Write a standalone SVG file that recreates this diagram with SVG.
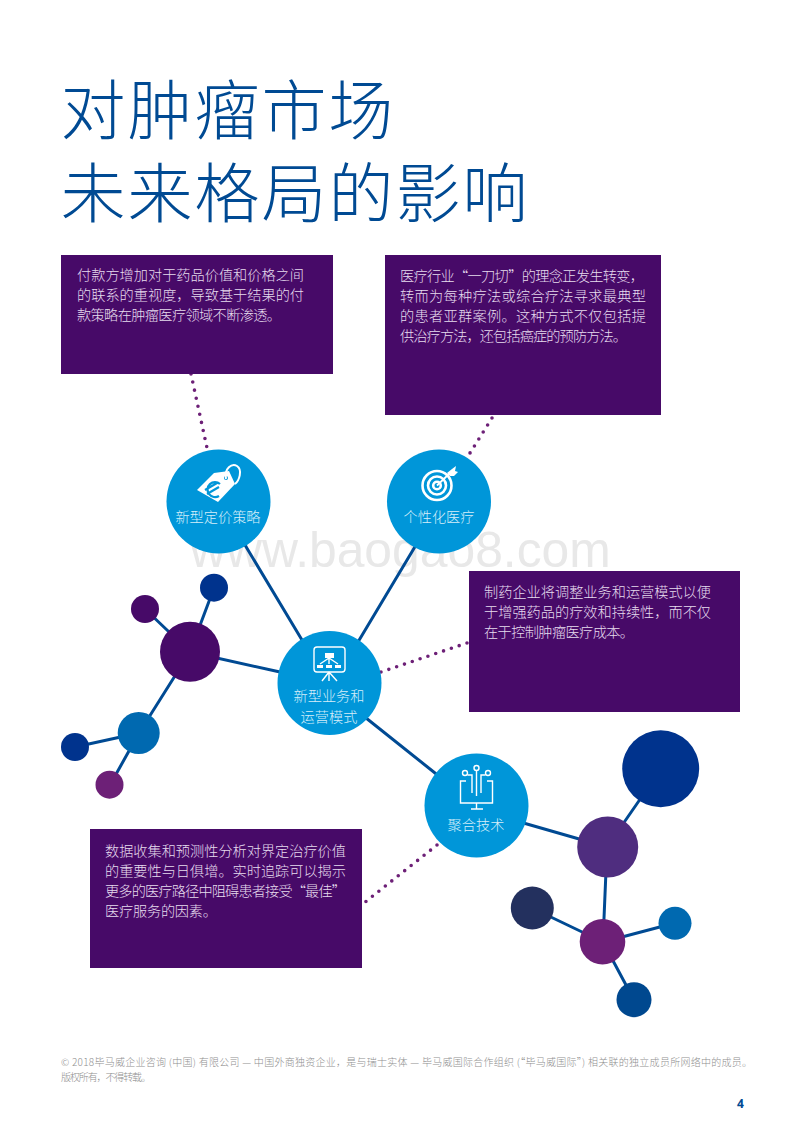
<svg xmlns="http://www.w3.org/2000/svg" width="800" height="1132" viewBox="0 0 800 1132">
<style>
text{font-family:"Noto Sans CJK SC","Noto Sans",sans-serif}
.title{font-size:65px;font-weight:200;fill:#004a93;letter-spacing:2px}
.box{fill:#470a68}
.bt{font-size:14.2px;fill:#e6dcee;font-weight:300}
.hub{fill:#0096d9}
.hl{font-size:14.2px;fill:#d6eefa;font-weight:300;text-anchor:middle}
.line{stroke:#004a93;stroke-width:3;fill:none}
.dot{stroke:#6d2077;stroke-width:3.6;stroke-linecap:round;stroke-dasharray:0 8.25;fill:none}
.ic{stroke:#fff;stroke-width:1.4;fill:none}
.tg{stroke:#fff;stroke-width:2.6;fill:none}
.foot{font-size:10px;fill:#8f8f8f;font-weight:300}
</style>
<rect width="800" height="1132" fill="#fff"/>
<text class="title" x="60.500" y="134">对肿瘤市场</text>
<text class="title" x="60.500" y="217">未来格局的影响</text>
<text x="190" y="567" font-size="49.800" style="font-family:'Liberation Sans',sans-serif" fill="#e8e8e8">www.baogao8.com</text>

<g id="connectors">
<path class="line" d="M245 545L302 640M416 545L358 642M190 652L280 672M190 652L214 588M190 652L145 609M190 652L139 733M139 733L75 747M139 733L110 785M356 710L440 777M520 822L607 847M607 847L661 769M607 847L603 942M603 942L532 908M603 942L675 923M603 942L634 1000"/>
<path class="dot" d="M191 374L207 448M492 418L470 453M381 672L467 643M437 845L364 903"/>
</g>

<g id="box-payer"><rect class="box" x="61" y="255" width="272" height="119"/>
<text class="bt" x="77" y="280">付款方增加对于药品价值和价格之间</text>
<text class="bt" x="77" y="300">的联系的重视度，导致基于结果的付</text>
<text class="bt" x="77" y="320" textLength="204">款策略在肿瘤医疗领域不断渗透。</text></g>

<g id="box-care"><rect class="box" x="385" y="255" width="276" height="160"/>
<text class="bt" x="400" y="281" textLength="244">医疗行业“一刀切”的理念正发生转变，</text>
<text class="bt" x="400" y="301" textLength="246">转而为每种疗法或综合疗法寻求最典型</text>
<text class="bt" x="400" y="321" textLength="246">的患者亚群案例。这种方式不仅包括提</text>
<text class="bt" x="400" y="341" textLength="227">供治疗方法，还包括癌症的预防方法。</text></g>

<g id="box-pharma"><rect class="box" x="469" y="571" width="271" height="141"/>
<text class="bt" x="484" y="597">制药企业将调整业务和运营模式以便</text>
<text class="bt" x="484" y="617">于增强药品的疗效和持续性，而不仅</text>
<text class="bt" x="484" y="637" textLength="150">在于控制肿瘤医疗成本。</text></g>

<g id="box-data"><rect class="box" x="90" y="829" width="272" height="139"/>
<text class="bt" x="105" y="856" textLength="241">数据收集和预测性分析对界定治疗价值</text>
<text class="bt" x="105" y="876" textLength="241">的重要性与日俱增。实时追踪可以揭示</text>
<text class="bt" x="105" y="896" textLength="241">更多的医疗路径中阻碍患者接受“最佳”</text>
<text class="bt" x="105" y="916" textLength="112">医疗服务的因素。</text></g>

<g id="node-pricing"><circle class="hub" cx="218.500" cy="501.500" r="52"/>
<path fill="#fff" d="M197 490L214 473L229 471L235 484L218 502Z"/>
<circle cx="226" cy="478" r="2" fill="#0096d9"/>
<path d="M226 479C224 468 232 463 237 466C243 470 239 481 235 484" fill="none" stroke="#fff" stroke-width="2"/>
<path d="M220 484A7.500 7.500 0 1 0 219 496M205 490L217 483M207 494L219 487" fill="none" stroke="#0096d9" stroke-width="2.200"/>
<text class="hl" x="218" y="522">新型定价策略</text></g>

<g id="node-personal"><circle class="hub" cx="439" cy="501.500" r="52"/>
<g class="tg"><circle cx="437" cy="485.500" r="14.500"/><circle cx="437" cy="485.500" r="9"/><circle cx="437" cy="485.500" r="3.800"/></g>
<path d="M437 485.500L450 473" stroke="#fff" stroke-width="1.800" fill="none"/>
<path fill="#fff" d="M447 473L452 469L456 466L455 471L458 472L454 476L450 476Z"/>
<text class="hl" x="439" y="522">个性化医疗</text></g>

<g id="node-ops"><circle class="hub" cx="329.500" cy="683" r="52"/>
<rect class="ic" x="314" y="647" width="31" height="25" rx="3"/>
<path class="ic" d="M329 672L322 681M329 672L337 681M329 672V681M329 658L320 664M329 658L338 664M329 658V664"/>
<g fill="#fff"><rect x="325" y="653" width="9" height="5"/><rect x="317" y="665" width="6" height="3"/><rect x="326" y="665" width="6" height="3"/><rect x="335" y="665" width="6" height="3"/></g>
<text class="hl" x="329" y="701">新型业务和</text>
<text class="hl" x="329" y="722">运营模式</text></g>

<g id="node-tech"><circle class="hub" cx="476.500" cy="805.500" r="52"/>
<g class="ic"><path d="M466 781H460.500V803H492.500V781H487M476.500 803V809M471 809H483"/><path d="M476.500 770.500V796M472 793V775H467.500M481 793V775H485.500"/><circle cx="476.500" cy="768" r="2.500"/><circle cx="465" cy="773" r="2.500"/><circle cx="488" cy="773" r="2.500"/></g>
<text class="hl" x="476" y="830">聚合技术</text></g>

<g id="mol-1"><circle cx="190" cy="651.700" r="30" fill="#470a68"/></g>
<g id="mol-2"><circle cx="214" cy="587.700" r="14" fill="#00338d"/></g>
<g id="mol-3"><circle cx="145" cy="609" r="14" fill="#470a68"/></g>
<g id="mol-4"><circle cx="138.700" cy="733" r="21" fill="#0069b0"/></g>
<g id="mol-5"><circle cx="75" cy="747" r="14" fill="#00338d"/></g>
<g id="mol-6"><circle cx="109.500" cy="784.700" r="14" fill="#6d2077"/></g>
<g id="mol-7"><circle cx="660.700" cy="768.700" r="38.500" fill="#00338d"/></g>
<g id="mol-8"><circle cx="607.700" cy="847" r="30.500" fill="#4f2d7f"/></g>
<g id="mol-9"><circle cx="602.500" cy="941.700" r="22.800" fill="#6d2077"/></g>
<g id="mol-10"><circle cx="532.300" cy="908" r="21.500" fill="#23305e"/></g>
<g id="mol-11"><circle cx="675" cy="923.300" r="16.500" fill="#0069b0"/></g>
<g id="mol-12"><circle cx="634" cy="999.700" r="17.500" fill="#00488f"/></g>

<text class="foot" x="61" y="1066" textLength="691">© 2018毕马威企业咨询 (中国) 有限公司 — 中国外商独资企业，是与瑞士实体 — 毕马威国际合作组织 (“毕马威国际”) 相关联的独立成员所网络中的成员。</text>
<text class="foot" x="61" y="1081" textLength="90">版权所有，不得转载。</text>
<text x="737" y="1108" font-size="12" font-weight="700" fill="#004a93" style="font-family:'Open Sans',sans-serif">4</text>
</svg>
